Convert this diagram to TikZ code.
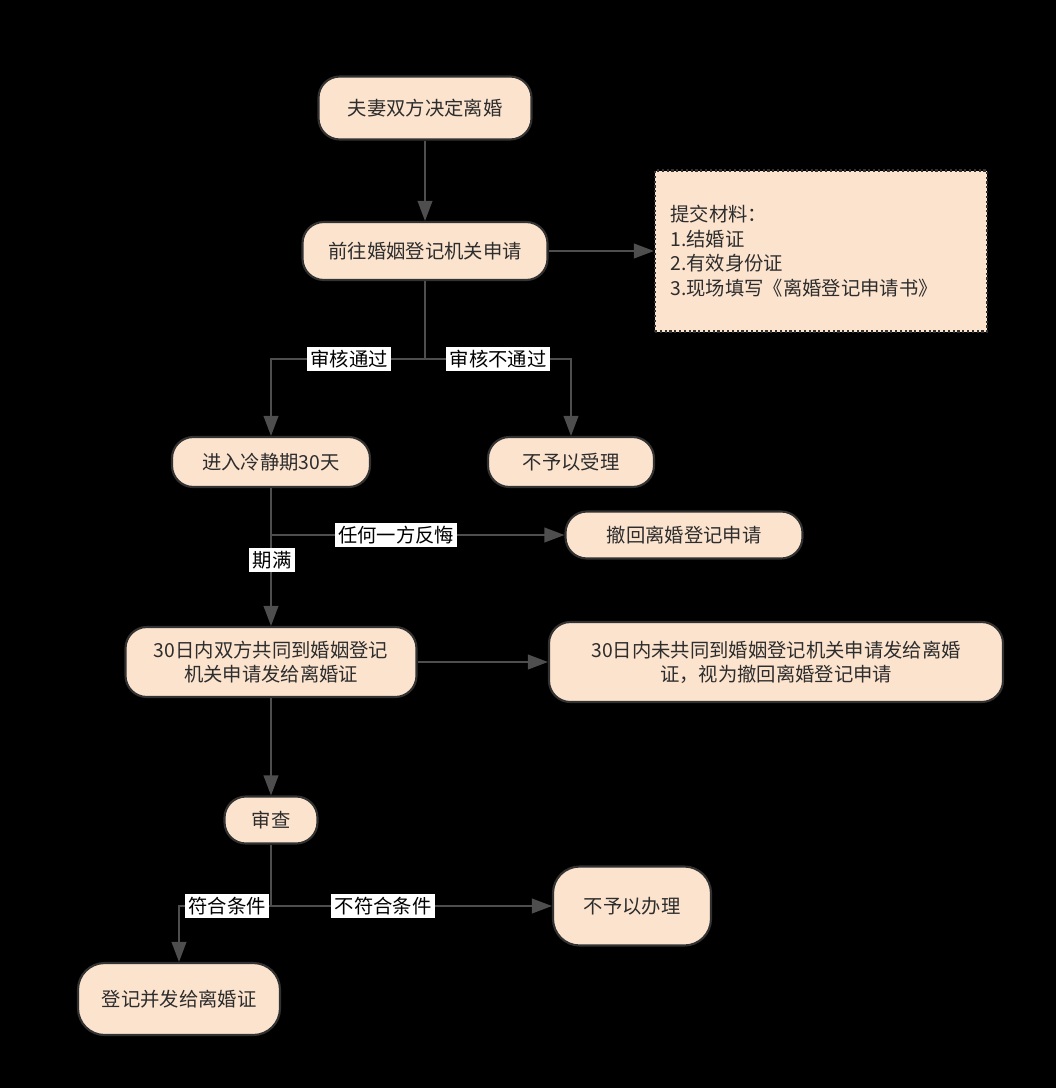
\documentclass[tikz,border=0pt]{standalone}
\usepackage{fontspec}
\setmainfont{Noto Sans CJK SC}
\usetikzlibrary{arrows.meta}
\definecolor{peach}{RGB}{252,227,206}
\definecolor{edge}{RGB}{78,78,78}
\definecolor{rim}{RGB}{50,50,50}
\definecolor{ink}{RGB}{45,45,45}
\tikzset{
  box/.style={draw=rim, line width=1.6pt, fill=peach, rounded corners=16pt,
    text=ink, font=\fontsize{14.5pt}{18pt}\selectfont, align=center, inner sep=2pt},
  matbox/.style={draw=rim, line width=1.6pt, dotted, fill=peach,
    text=ink, font=\fontsize{14.5pt}{18.4pt}\selectfont, align=left, inner sep=0pt},
  conn/.style={draw=edge, line width=1.3pt},
  arr/.style={conn, -{Triangle[length=15pt,width=11pt]}},
  lbl/.style={fill=white, text=black, font=\fontsize{14.5pt}{16pt}\selectfont,
    inner xsep=2.5pt, inner ysep=2pt}
}
\begin{document}
\begin{tikzpicture}[x=0.75pt,y=-0.75pt]
\path[fill=black] (0,0) rectangle (1056,1088);
\useasboundingbox (0,0) rectangle (1056,1088);

\node[box, minimum width=159.75pt, minimum height=47.25pt] (n1) at (425,108) {夫妻双方决定离婚};
\node[box, minimum width=183.75pt, minimum height=43.5pt] (n2) at (425,251) {前往婚姻登记机关申请};
\node[matbox, minimum width=249pt, minimum height=120.75pt] (mat) at (821,251)
  {\parbox{226pt}{提交材料：\\1.结婚证\\2.有效身份证\\3.现场填写《离婚登记申请书》}};
\node[box, minimum width=148.5pt, minimum height=37.5pt] (n4) at (271,462) {进入冷静期30天};
\node[box, minimum width=124.5pt, minimum height=37.5pt] (n5) at (571,462) {不予以受理};
\node[box, minimum width=177.75pt, minimum height=35.25pt] (n6) at (684,535) {撤回离婚登记申请};
\node[box, minimum width=218.25pt, minimum height=52.5pt] (n7) at (271,662) {30日内双方共同到婚姻登记\\机关申请发给离婚证};
\node[box, minimum width=340.5pt, minimum height=60pt] (n8) at (776,662) {30日内未共同到婚姻登记机关申请发给离婚\\证，视为撤回离婚登记申请};
\node[box, minimum width=69.75pt, minimum height=35.25pt] (n9) at (271,820) {审查};
\node[box, minimum width=118.5pt, minimum height=59.25pt, rounded corners=20pt] (n10) at (632,906) {不予以办理};
\node[box, minimum width=151.5pt, minimum height=54pt, rounded corners=20pt] (n11) at (179,999) {登记并发给离婚证};

\coordinate (j1) at (425,359);
\coordinate (j2) at (271,535);
\coordinate (j3) at (271,906);

\draw[arr] (n1.south) -- (n2.north);
\draw[arr] (n2.east) -- (mat.west);
\draw[conn] (n2.south) -- (j1);
\draw[arr] (j1) -| (n4.north);
\draw[arr] (j1) -| (n5.north);
\draw[arr] (n4.south) -- (n7.north);
\draw[arr] (j2) -- (n6.west);
\draw[arr] (n7.east) -- (n8.west);
\draw[arr] (n7.south) -- (n9.north);
\draw[conn] (n9.south) -- (j3);
\draw[arr] (j3) -- (n10.west);
\draw[arr] (j3) -| (n11.north);

\node[lbl] (l1) at (349,359) {审核通过};
\node[lbl] (l2) at (498,359) {审核不通过};
\node[lbl] (l3) at (396,535) {任何一方反悔};
\node[lbl] (l4) at (272,560) {期满};
\node[lbl] (l5) at (227,906) {符合条件};
\node[lbl] (l6) at (383,906) {不符合条件};
\end{tikzpicture}
\end{document}
